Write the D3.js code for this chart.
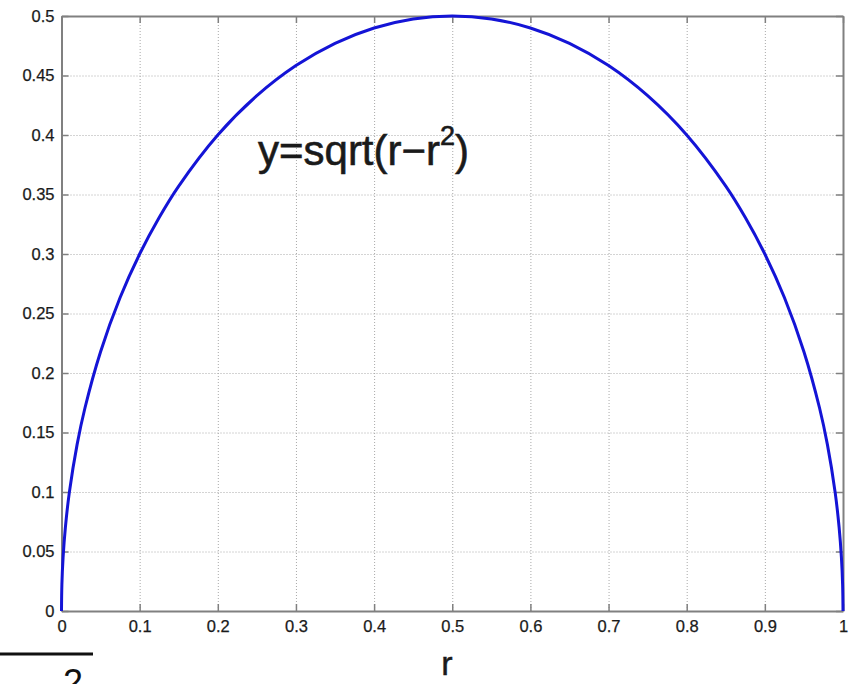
<!DOCTYPE html>
<html>
<head>
<meta charset="utf-8">
<script src="https://cdn.jsdelivr.net/npm/d3@7"></script>
<style>
  html, body { margin: 0; padding: 0; background: #fff; }
  svg { display: block; }
  text { font-family: "Liberation Sans", Arial, Helvetica, sans-serif; }
</style>
</head>
<body>
<svg id="chart" width="853" height="684"></svg>
<script>
// Sampled points of the half-circle curve y = sqrt(r - r^2)
const rValues = [0, 0.0005, 0.002, 0.005, 0.01, 0.02, 0.03, 0.05, 0.075, 0.1, 0.125, 0.15, 0.2, 0.25, 0.3, 0.35, 0.4, 0.45, 0.5,
                 0.55, 0.6, 0.65, 0.7, 0.75, 0.8, 0.85, 0.875, 0.9, 0.925, 0.95, 0.97, 0.98, 0.99, 0.995, 0.998, 0.9995, 1];
const yValues = [0, 0.0224, 0.0447, 0.0705, 0.0995, 0.140, 0.1706, 0.2179, 0.2634, 0.300, 0.3307, 0.3571, 0.400, 0.4330, 0.4583, 0.4770, 0.4899, 0.4975, 0.500,
                 0.4975, 0.4899, 0.4770, 0.4583, 0.4330, 0.400, 0.3571, 0.3307, 0.300, 0.2634, 0.2179, 0.1706, 0.140, 0.0995, 0.0705, 0.0447, 0.0224, 0];

// Tick positions and labels
const xTicks = [0, 0.1, 0.2, 0.3, 0.4, 0.5, 0.6, 0.7, 0.8, 0.9, 1];
const xTickLabels = ["0", "0.1", "0.2", "0.3", "0.4", "0.5", "0.6", "0.7", "0.8", "0.9", "1"];
const yTicks = [0, 0.05, 0.1, 0.15, 0.2, 0.25, 0.3, 0.35, 0.4, 0.45, 0.5];
const yTickLabels = ["0", "0.05", "0.1", "0.15", "0.2", "0.25", "0.3", "0.35", "0.4", "0.45", "0.5"];

const svg = d3.select("#chart");
const plotLeft = 61.5, plotRight = 843, plotTop = 16, plotBottom = 611;
const x = d3.scaleLinear().domain([0, 1]).range([plotLeft, plotRight]);
const y = d3.scaleLinear().domain([0, 0.5]).range([plotBottom, plotTop]);

const gridColor = "#a8a8a8";
const axisColor = "#808080";
const textColor = "#1a1a1a";

// Dotted grid
svg.append("g")
  .attr("transform", `translate(0,${plotBottom})`)
  .call(d3.axisBottom(x).tickValues(xTicks.slice(1, -1)).tickSize(-(plotBottom - plotTop)).tickFormat(""))
  .call(g => g.select(".domain").remove())
  .call(g => g.selectAll("line").attr("stroke", gridColor).attr("stroke-width", 1).attr("stroke-dasharray", "1,2"));
svg.append("g")
  .attr("transform", `translate(${plotLeft},0)`)
  .call(d3.axisLeft(y).tickValues(yTicks.slice(1, -1)).tickSize(-(plotRight - plotLeft)).tickFormat(""))
  .call(g => g.select(".domain").remove())
  .call(g => g.selectAll("line").attr("stroke", gridColor).attr("stroke-width", 1).attr("stroke-dasharray", "1,2"));

// Axes (ticks inward on all four sides)
const tickLen = 7;
function styleAxis(g) {
  g.select(".domain").attr("stroke", axisColor).attr("stroke-width", 2);
  g.selectAll(".tick line").attr("stroke", axisColor).attr("stroke-width", 1.5);
  g.selectAll(".tick text").attr("fill", textColor).attr("font-size", 16.5)
    .attr("stroke", textColor).attr("stroke-width", 0.25);
}
svg.append("g")
  .attr("transform", `translate(0,${plotBottom})`)
  .call(d3.axisBottom(x).tickValues(xTicks).tickSizeInner(-tickLen).tickSizeOuter(0).tickPadding(9.3)
        .tickFormat((d, i) => xTickLabels[i]))
  .call(styleAxis);
svg.append("g")
  .attr("transform", `translate(${plotLeft},0)`)
  .call(d3.axisLeft(y).tickValues(yTicks).tickSizeInner(-tickLen).tickSizeOuter(0).tickPadding(7)
        .tickFormat((d, i) => yTickLabels[i]))
  .call(styleAxis);
svg.append("g")
  .attr("transform", `translate(0,${plotTop})`)
  .call(d3.axisTop(x).tickValues(xTicks).tickSizeInner(-tickLen).tickSizeOuter(0).tickFormat(""))
  .call(styleAxis);
svg.append("g")
  .attr("transform", `translate(${plotRight},0)`)
  .call(d3.axisRight(y).tickValues(yTicks).tickSizeInner(-tickLen).tickSizeOuter(0).tickFormat(""))
  .call(styleAxis);
svg.selectAll(".domain").attr("fill", "none");

// Curve
const pts = rValues.map((r, i) => [r, yValues[i]]);
svg.append("path")
  .datum(pts)
  .attr("fill", "none")
  .attr("stroke", "#1414d6")
  .attr("stroke-width", 3)
  .attr("stroke-linejoin", "round")
  .attr("d", d3.line().x(d => x(d[0])).y(d => y(d[1])).curve(d3.curveCatmullRom.alpha(0.5)));

// Formula annotation
const ann = svg.append("text")
  .attr("x", 258).attr("y", 165)
  .attr("fill", textColor)
  .attr("stroke", textColor).attr("stroke-width", 0.6)
  .attr("font-size", 42);
ann.append("tspan").text("y=sqrt(r\u2212r");
ann.append("tspan").attr("font-size", 27).attr("dy", -20).text("2");
ann.append("tspan").attr("dy", 20).text(")");

// Axis label
svg.append("text")
  .attr("x", 447).attr("y", 675)
  .attr("text-anchor", "middle")
  .attr("fill", textColor)
  .attr("stroke", textColor).attr("stroke-width", 0.5)
  .attr("font-size", 34)
  .text("r");

// Fraction bar with denominator below
svg.append("line")
  .attr("x1", 0).attr("x2", 93)
  .attr("y1", 654).attr("y2", 654)
  .attr("stroke", "#111").attr("stroke-width", 3);
svg.append("text")
  .attr("x", 73).attr("y", 695)
  .attr("text-anchor", "middle")
  .attr("fill", "#111")
  .attr("font-family", "'Liberation Serif', 'Times New Roman', serif")
  .attr("font-size", 36)
  .text("2");
</script>
</body>
</html>
